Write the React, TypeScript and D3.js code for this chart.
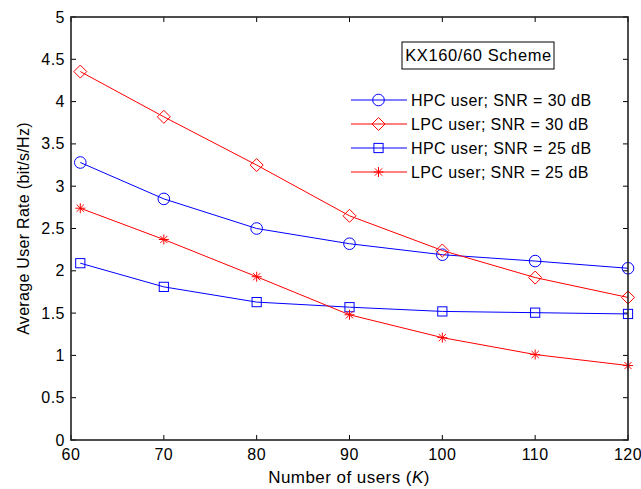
import React from "react";
import * as d3 from "d3";

const users = [61, 70, 80, 90, 100, 110, 120];
const hpc30 = [3.28, 2.85, 2.5, 2.32, 2.19, 2.115, 2.03];
const lpc30 = [4.355, 3.82, 3.25, 2.65, 2.24, 1.92, 1.685];
const hpc25 = [2.09, 1.81, 1.63, 1.57, 1.52, 1.505, 1.49];
const lpc25 = [2.74, 2.37, 1.93, 1.48, 1.21, 1.01, 0.88];
const seriesNames = [
  "HPC user; SNR = 30 dB",
  "LPC user; SNR = 30 dB",
  "HPC user; SNR = 25 dB",
  "LPC user; SNR = 25 dB",
];
const xTicks = [60, 70, 80, 90, 100, 110, 120];
const yTicks = [0, 0.5, 1, 1.5, 2, 2.5, 3, 3.5, 4, 4.5, 5];

const W = 641, H = 489;
const L = 71, R = 628, T = 17, B = 440;
const FONT = "'Liberation Sans', Arial, Helvetica, sans-serif";

type MarkerKind = "circle" | "diamond" | "square" | "star";

const series: { name: string; values: number[]; color: string; marker: MarkerKind }[] = [
  { name: seriesNames[0], values: hpc30, color: "#0000ff", marker: "circle" },
  { name: seriesNames[1], values: lpc30, color: "#ff0000", marker: "diamond" },
  { name: seriesNames[2], values: hpc25, color: "#0000ff", marker: "square" },
  { name: seriesNames[3], values: lpc25, color: "#ff0000", marker: "star" },
];

function Marker({ kind, x, y, color }: { kind: MarkerKind; x: number; y: number; color: string }) {
  const common = { fill: "none", stroke: color, strokeWidth: 1 };
  if (kind === "circle") return <circle cx={x} cy={y} r={5.8} {...common} />;
  if (kind === "diamond") {
    const s = 6.5;
    return <path d={`M${x},${y - s}L${x + s},${y}L${x},${y + s}L${x - s},${y}Z`} {...common} />;
  }
  if (kind === "square") {
    const s = 4.6;
    return <rect x={x - s} y={y - s} width={2 * s} height={2 * s} {...common} />;
  }
  const s = 5;
  const d = s * 0.72;
  return (
    <path
      d={`M${x},${y - s}L${x},${y + s}M${x - s},${y}L${x + s},${y}M${x - d},${y - d}L${x + d},${y + d}M${x - d},${y + d}L${x + d},${y - d}`}
      {...common}
    />
  );
}

export default function App() {
  const x = d3.scaleLinear().domain([60, 120]).range([L, R]);
  const y = d3.scaleLinear().domain([0, 5]).range([B, T]);
  const line = d3
    .line<number>()
    .x((_, i) => x(users[i]))
    .y((v) => y(v));

  const legX0 = 351, legX1 = 407, legMx = 378.5, legTx = 411;
  const legY = [100, 124, 148, 172];
  const tickFont = { fontFamily: FONT, fontSize: 16, letterSpacing: 0.5, fill: "#000" };

  return (
    <svg width={W} height={H} style={{ position: "absolute", left: 0, top: 0, background: "#fff" }}>
      <rect x={0} y={0} width={W} height={H} fill="#fff" />
      {/* ticks */}
      {xTicks.map((t) => (
        <g key={"x" + t}>
          <line x1={x(t)} x2={x(t)} y1={B} y2={B - 5} stroke="#000" strokeWidth={1} />
          <line x1={x(t)} x2={x(t)} y1={T} y2={T + 5} stroke="#000" strokeWidth={1} />
          <text x={x(t)} y={459.5} textAnchor="middle" {...tickFont}>
            {t}
          </text>
        </g>
      ))}
      {yTicks.map((t) => (
        <g key={"y" + t}>
          <line x1={L} x2={L + 5} y1={y(t)} y2={y(t)} stroke="#000" strokeWidth={1} />
          <line x1={R} x2={R - 5} y1={y(t)} y2={y(t)} stroke="#000" strokeWidth={1} />
          <text x={65} y={y(t) + 5.5} textAnchor="end" {...tickFont}>
            {t}
          </text>
        </g>
      ))}
      {/* series */}
      {series.map((s) => (
        <g key={s.name}>
          <path d={line(s.values) || ""} fill="none" stroke={s.color} strokeWidth={1} />
          {s.values.map((v, i) => (
            <Marker key={i} kind={s.marker} x={x(users[i])} y={y(v)} color={s.color} />
          ))}
        </g>
      ))}
      {/* axes box */}
      <rect x={L} y={T} width={R - L} height={B - T} fill="none" stroke="#222" strokeWidth={1.6} />
      {/* scheme box */}
      <rect x={402} y={42} width={152} height={27} fill="#fff" stroke="#000" strokeWidth={1} />
      <text x={478.5} y={61} textAnchor="middle" fontFamily={FONT} fontSize={16.5} letterSpacing={0.6} fill="#000">
        KX160/60 Scheme
      </text>
      {/* legend */}
      {series.map((s, i) => (
        <g key={"leg" + i}>
          <line x1={legX0} x2={legX1} y1={legY[i]} y2={legY[i]} stroke={s.color} strokeWidth={1} />
          <Marker kind={s.marker} x={legMx} y={legY[i]} color={s.color} />
          <text x={legTx} y={legY[i] + 6} fontFamily={FONT} fontSize={16} letterSpacing={0.4} fill="#000">
            {s.name}
          </text>
        </g>
      ))}
      {/* axis labels */}
      <text x={349} y={483} textAnchor="middle" fontFamily={FONT} fontSize={17} letterSpacing={0.45} fill="#000">
        Number of users (<tspan fontStyle="italic">K</tspan>)
      </text>
      <text
        transform={`translate(29,${(T + B) / 2}) rotate(-90)`}
        textAnchor="middle"
        fontFamily={FONT}
        fontSize={16}
        letterSpacing={0.3}
        fill="#000"
      >
        Average User Rate (bit/s/Hz)
      </text>
    </svg>
  );
}
